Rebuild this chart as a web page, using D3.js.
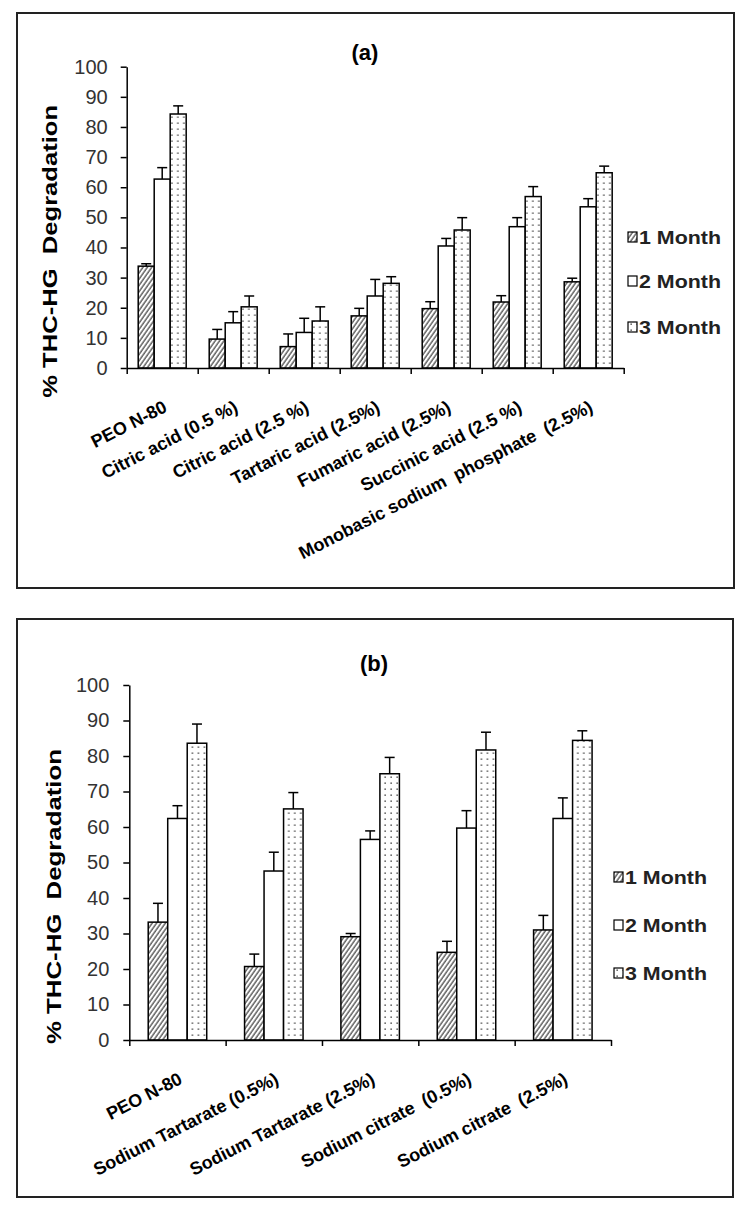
<!DOCTYPE html>
<html>
<head>
<meta charset="utf-8">
<script src="https://cdn.jsdelivr.net/npm/d3@7/dist/d3.min.js"></script>
<style>
  body { margin: 0; background: #fff; }
  svg { display: block; font-family: "Liberation Sans", Arial, sans-serif; }
  text { white-space: pre; }
</style>
</head>
<body>
<svg id="chart" width="750" height="1215"></svg>
<script>
// Series shared by both panels
const seriesNames = ["1 Month", "2 Month", "3 Month"];
const yTicks = [0, 10, 20, 30, 40, 50, 60, 70, 80, 90, 100];

// Panel (a) – acids
const categoriesA = ["PEO N-80", "Citric acid (0.5 %)", "Citric acid (2.5 %)", "Tartaric acid (2.5%)",
	"Fumaric acid (2.5%)", "Succinic acid (2.5 %)", "Monobasic sodium  phosphate  (2.5%)"];
const month1A = [33.8, 9.6, 7.1, 17.3, 19.7, 21.9, 28.6];
const month2A = [62.7, 15.0, 11.8, 23.9, 40.5, 46.9, 53.5];
const month3A = [84.3, 20.3, 15.6, 28.1, 45.8, 56.9, 64.8];
const err1A = [0.8, 3.2, 4.2, 2.5, 2.3, 2.1, 1.2];
const err2A = [3.8, 3.7, 4.7, 5.5, 2.5, 3.0, 2.7];
const err3A = [2.7, 3.6, 4.7, 2.2, 4.1, 3.3, 2.2];

// Panel (b) – salts
const categoriesB = ["PEO N-80", "Sodium Tartarate (0.5%)", "Sodium Tartarate (2.5%)",
	"Sodium citrate  (0.5%)", "Sodium citrate  (2.5%)"];
const month1B = [33.2, 20.7, 29.1, 24.7, 31.0];
const month2B = [62.4, 47.6, 56.5, 59.7, 62.4];
const month3B = [83.6, 65.1, 75.0, 81.7, 84.4];
const err1B = [5.3, 3.5, 0.9, 3.1, 4.1];
const err2B = [3.6, 5.3, 2.4, 4.9, 5.8];
const err3B = [5.4, 4.6, 4.6, 5.0, 2.7];

const svg = d3.select("#chart");
const defs = svg.append("defs");

// Hatched fill for 1 month
defs.append("pattern")
		.attr("id", "hatch")
		.attr("patternUnits", "userSpaceOnUse")
		.attr("width", 3.6)
		.attr("height", 10)
		.attr("patternTransform", "rotate(35)")
	.append("line")
		.attr("x1", 1).attr("y1", 0)
		.attr("x2", 1).attr("y2", 10)
		.attr("stroke", "#111")
		.attr("stroke-width", 1);

// Dotted fill for 3 month
const dots = defs.append("pattern")
		.attr("id", "dots")
		.attr("patternUnits", "userSpaceOnUse")
		.attr("width", 6)
		.attr("height", 6);
dots.append("rect").attr("width", 6).attr("height", 6).attr("fill", "#fff");
dots.append("rect")
		.attr("x", 2.5).attr("y", 2.5)
		.attr("width", 1.3).attr("height", 1.3)
		.attr("fill", "#222");

const fills = ["url(#hatch)", "#fff", "url(#dots)"];

const panels = [
	{
		title: "(a)", titleX: 365, titleY: 60,
		box: [17, 13, 734, 588],
		x0: 126.7, x1: 623.7, yTop: 66.7, yBottom: 368,
		pad: 0.72, tickPad: 13, labelLen: 293, labelX: 57,
		legendX: 628, legendY: [237, 281, 327],
		categories: categoriesA,
		values: [month1A, month2A, month3A],
		errors: [err1A, err2A, err3A]
	},
	{
		title: "(b)", titleX: 374, titleY: 671,
		box: [17, 619, 733, 1197],
		x0: 129.3, x1: 611, yTop: 685, yBottom: 1040,
		pad: 0.97, tickPad: 14, labelLen: 295, labelX: 61,
		legendX: 614, legendY: [877, 925, 973],
		categories: categoriesB,
		values: [month1B, month2B, month3B],
		errors: [err1B, err2B, err3B]
	}
];

panels.forEach(drawPanel);

function drawPanel(p) {
	const g = svg.append("g");

	// Frame around the panel
	g.append("rect")
			.attr("x", p.box[0])
			.attr("y", p.box[1])
			.attr("width", p.box[2] - p.box[0])
			.attr("height", p.box[3] - p.box[1])
			.attr("fill", "none")
			.attr("stroke", "#222")
			.attr("stroke-width", 2);

	const y = d3.scaleLinear().domain([0, 100]).range([p.yBottom, p.yTop]);
	const x = d3.scaleBand().domain(p.categories).range([p.x0, p.x1]).padding(0);
	const xs = d3.scaleBand().domain(seriesNames).range([0, x.bandwidth()])
			.paddingInner(0).paddingOuter(p.pad);

	// Bars
	const rows = p.categories.map((c, i) => seriesNames.map((s, j) => ({
		cat: c, series: s, idx: j, value: p.values[j][i], err: p.errors[j][i]
	})));

	const groups = g.selectAll(".grp")
		.data(rows)
		.enter()
		.append("g")
			.attr("transform", d => `translate(${x(d[0].cat)},0)`);

	groups.selectAll("rect")
		.data(d => d)
		.enter()
		.append("rect")
			.attr("x", d => xs(d.series))
			.attr("y", d => y(d.value))
			.attr("width", xs.bandwidth())
			.attr("height", d => y(0) - y(d.value))
			.attr("fill", d => fills[d.idx])
			.attr("stroke", "#000")
			.attr("stroke-width", 1.5);

	// Error bars (upper half only, as in the original)
	const eb = groups.selectAll(".err")
		.data(d => d)
		.enter()
		.append("g")
			.attr("class", "err")
			.attr("stroke", "#000")
			.attr("stroke-width", 1.5);
	eb.append("line")
			.attr("x1", d => xs(d.series) + xs.bandwidth() / 2)
			.attr("x2", d => xs(d.series) + xs.bandwidth() / 2)
			.attr("y1", d => y(d.value))
			.attr("y2", d => y(d.value + d.err));
	eb.append("line")
			.attr("x1", d => xs(d.series) + xs.bandwidth() / 2 - 5)
			.attr("x2", d => xs(d.series) + xs.bandwidth() / 2 + 5)
			.attr("y1", d => y(d.value + d.err))
			.attr("y2", d => y(d.value + d.err));

	// Y axis
	const yAxis = g.append("g")
			.attr("transform", `translate(${p.x0},0)`)
			.call(d3.axisLeft(y).tickValues(yTicks).tickSize(6).tickSizeOuter(0).tickPadding(p.tickPad));
	yAxis.select(".domain").attr("stroke-width", 1.5);
	yAxis.selectAll(".tick line").attr("stroke-width", 1.5);
	yAxis.selectAll("text")
			.attr("font-family", "\"Liberation Sans\", Arial, sans-serif")
			.attr("font-size", 20)
			.attr("fill", "#333");

	// X axis: ticks sit on category boundaries
	const xb = d3.scaleLinear().domain([0, p.categories.length]).range([p.x0, p.x1]);
	const xAxis = g.append("g")
			.attr("transform", `translate(0,${p.yBottom})`)
			.call(d3.axisBottom(xb).ticks(p.categories.length).tickSize(6).tickSizeOuter(0).tickFormat(""));
	xAxis.select(".domain").attr("stroke-width", 1.5);
	xAxis.selectAll(".tick line").attr("stroke-width", 1.5);

	// Rotated category labels
	g.selectAll(".xlabel")
		.data(p.categories)
		.enter()
		.append("text")
			.attr("class", "xlabel")
			.attr("transform", d => `translate(${x(d) + x.bandwidth() / 2 + 6},${p.yBottom + 43}) rotate(-27)`)
			.attr("text-anchor", "end")
			.attr("font-size", 18)
			.attr("font-weight", "bold")
			.text(d => d);

	// Y axis title
	g.append("text")
			.attr("transform", `translate(${p.labelX},${(p.yTop + p.yBottom) / 2 + 34}) rotate(-90)`)
			.attr("text-anchor", "middle")
			.attr("font-size", 21)
			.attr("font-weight", "bold")
			.attr("textLength", p.labelLen)
			.attr("lengthAdjust", "spacingAndGlyphs")
			.text("% THC-HG  Degradation");

	// Panel title
	g.append("text")
			.attr("x", p.titleX)
			.attr("y", p.titleY)
			.attr("text-anchor", "middle")
			.attr("font-size", 22)
			.attr("font-weight", "bold")
			.text(p.title);

	// Legend
	const leg = g.selectAll(".legend")
		.data(seriesNames)
		.enter()
		.append("g")
			.attr("transform", (d, i) => `translate(${p.legendX},${p.legendY[i]})`);
	leg.append("rect")
			.attr("x", 0)
			.attr("y", -5)
			.attr("width", 9)
			.attr("height", 10)
			.attr("fill", (d, i) => fills[i])
			.attr("stroke", "#000")
			.attr("stroke-width", 1.2);
	leg.append("text")
			.attr("x", 11)
			.attr("y", 7)
			.attr("font-size", 19)
			.attr("font-weight", "bold")
			.attr("fill", "#222")
			.attr("textLength", 82)
			.attr("lengthAdjust", "spacingAndGlyphs")
			.text(d => d);
}
</script>
</body>
</html>
